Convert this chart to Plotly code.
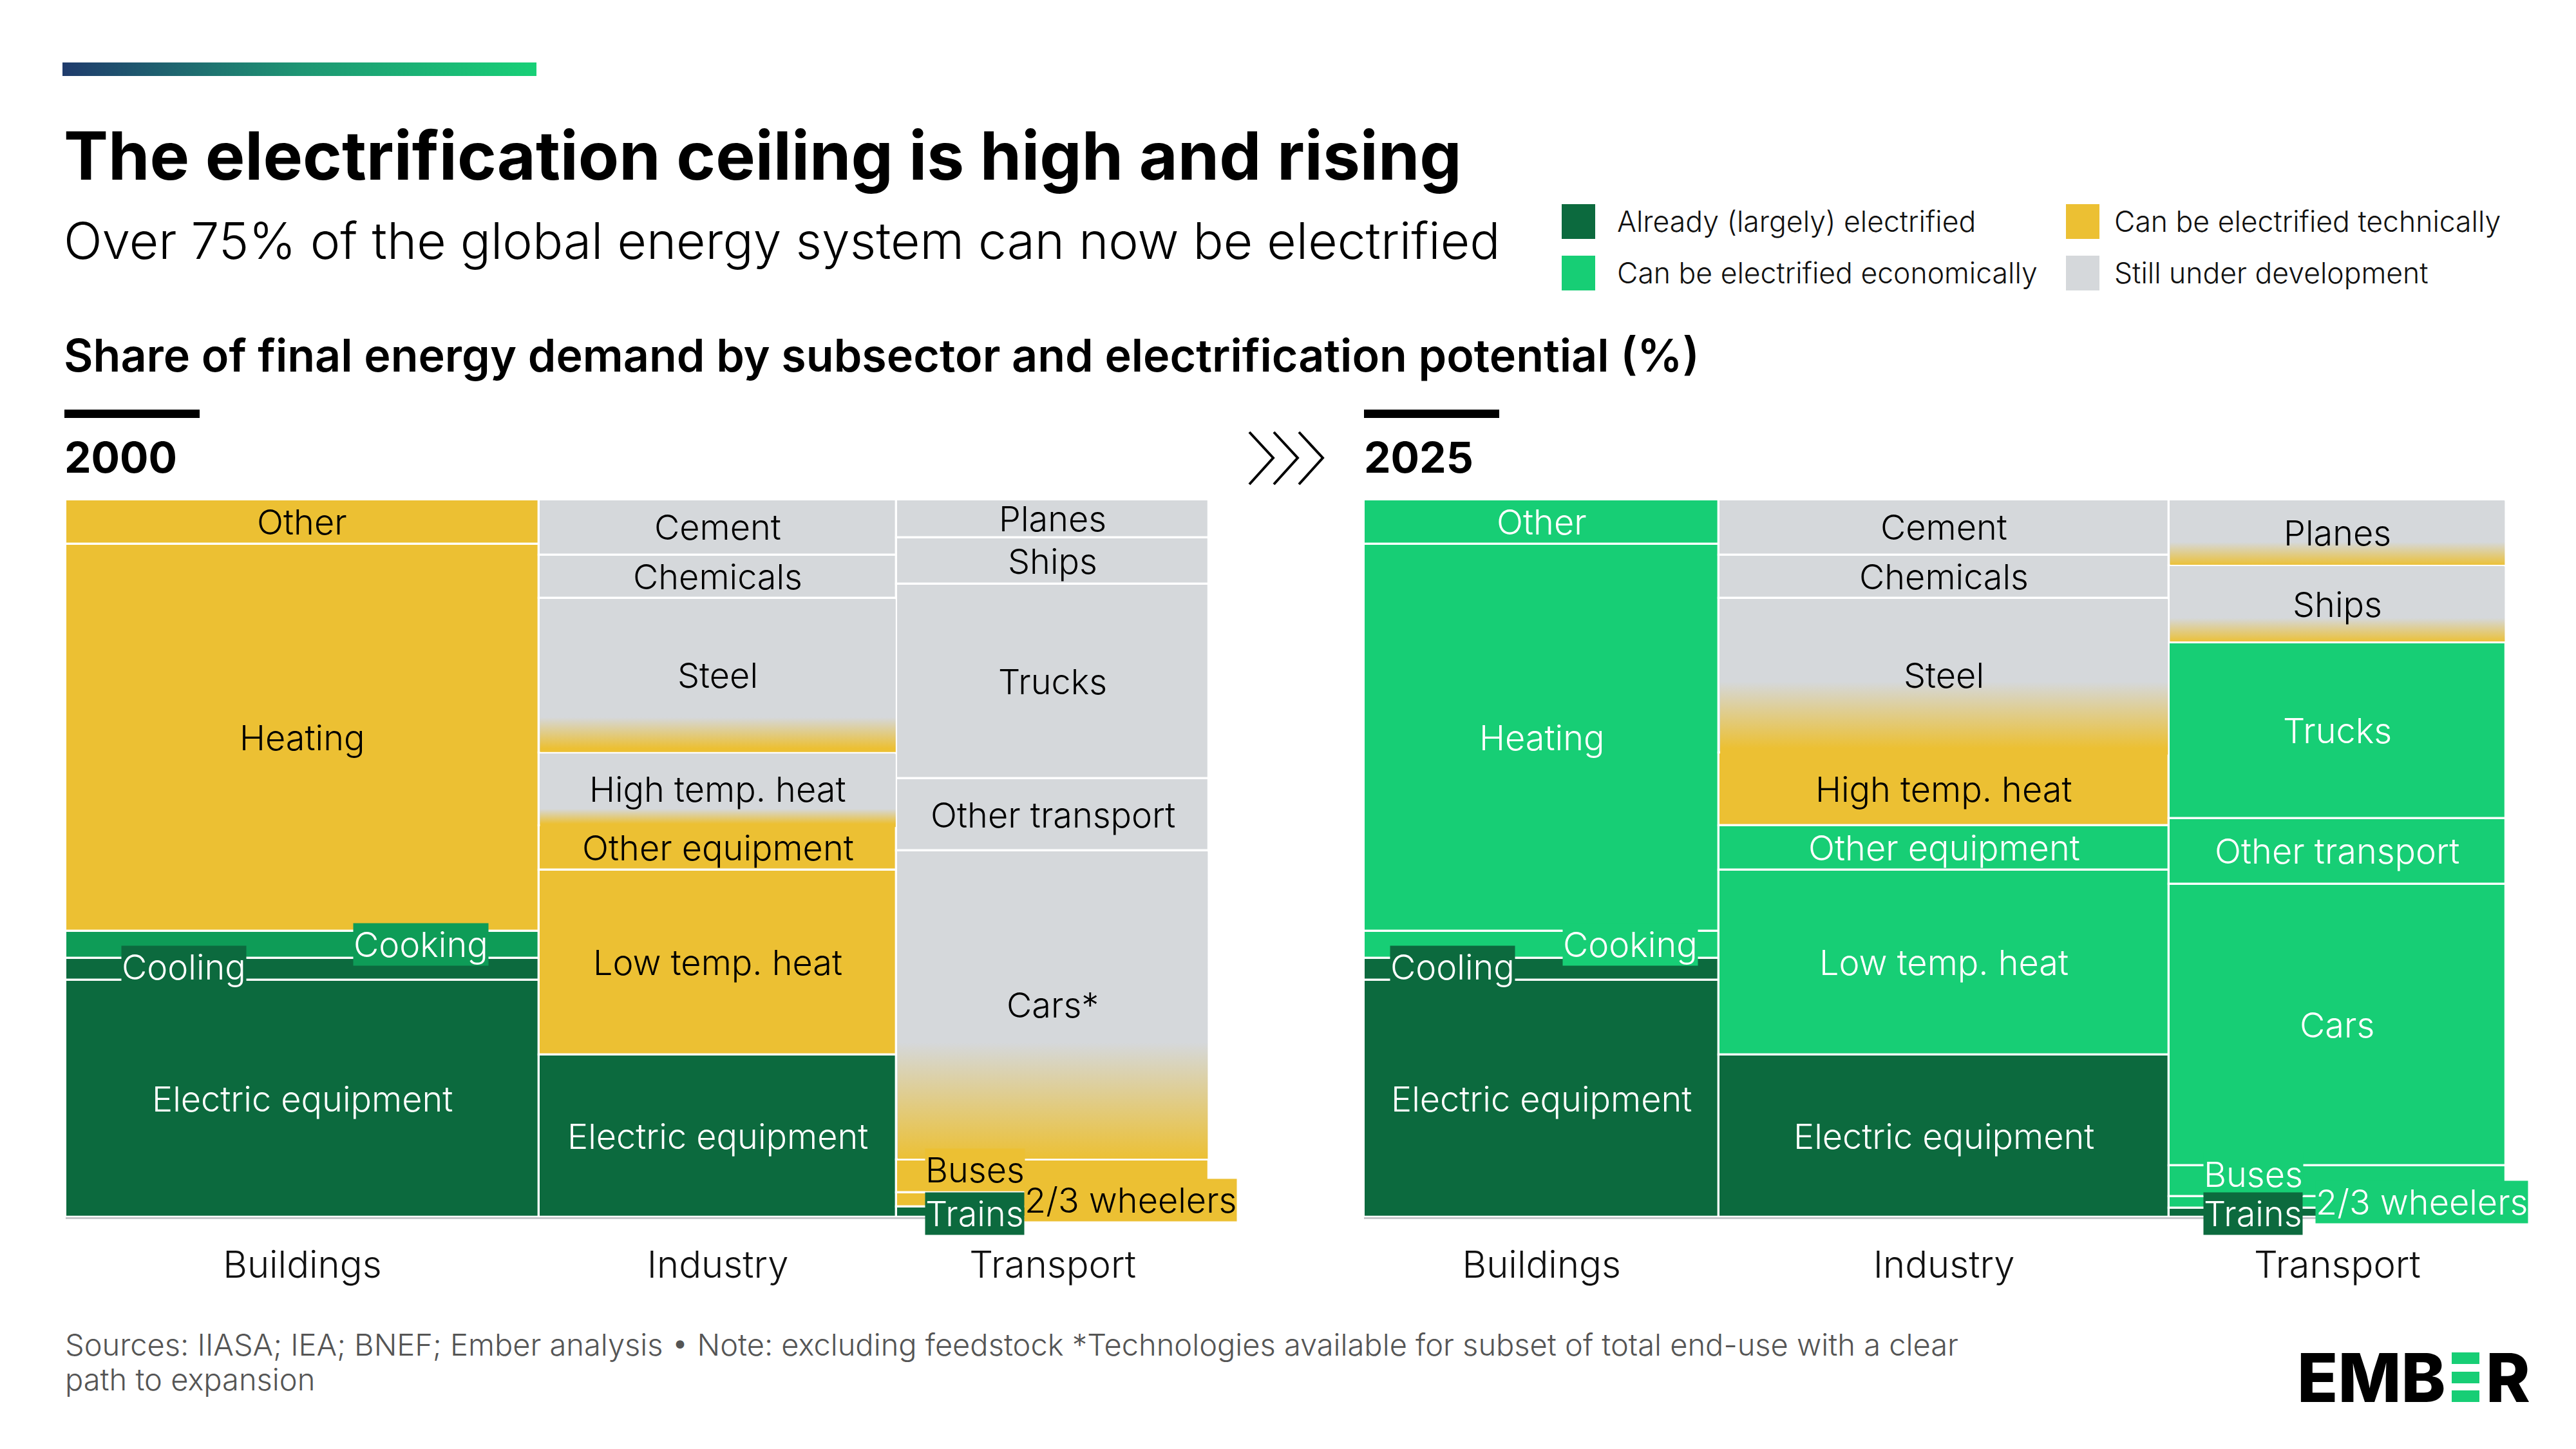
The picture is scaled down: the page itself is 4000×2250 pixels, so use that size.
import plotly.graph_objects as go

W, H = 4000, 2250

# ---------------- data ----------------
SECTORS = ["Buildings", "Industry", "Transport"]
SECTOR_WIDTH_2000 = [41.4, 31.3, 27.3]
SECTOR_WIDTH_2025 = [31.1, 39.4, 29.5]

# subsectors listed top-to-bottom, shares in % of the sector
BUILDINGS_SUBSECTORS = ["Other", "Heating", "Cooking", "Cooling", "Electric equipment"]
BUILDINGS_SHARE_2000 = [6.2, 53.9, 3.8, 3.1, 33.0]
BUILDINGS_SHARE_2025 = [6.2, 53.9, 3.8, 3.1, 33.0]
BUILDINGS_STATUS_2000 = ["tech", "tech", "partly", "already", "already"]
BUILDINGS_STATUS_2025 = ["econ", "econ", "econ", "already", "already"]

INDUSTRY_SUBSECTORS = ["Cement", "Chemicals", "Steel", "High temp. heat",
                       "Other equipment", "Low temp. heat", "Electric equipment"]
INDUSTRY_SHARE_2000 = [7.7, 6.0, 21.6, 10.1, 6.2, 25.8, 22.6]
INDUSTRY_SHARE_2025 = [7.7, 6.0, 21.6, 10.1, 6.2, 25.8, 22.6]
INDUSTRY_STATUS_2000 = ["dev", "dev", "grad", "grad", "tech", "tech", "already"]
INDUSTRY_STATUS_2025 = ["dev", "dev", "grad", "tech", "econ", "econ", "already"]

TRANSPORT_SUBSECTORS_2000 = ["Planes", "Ships", "Trucks", "Other transport", "Cars*",
                             "Buses", "2/3 wheelers", "Trains"]
TRANSPORT_SUBSECTORS_2025 = ["Planes", "Ships", "Trucks", "Other transport", "Cars",
                             "Buses", "2/3 wheelers", "Trains"]
TRANSPORT_SHARE_2000 = [5.3, 6.5, 27.1, 10.0, 43.1, 4.6, 2.0, 1.4]
TRANSPORT_SHARE_2025 = [9.2, 10.7, 24.5, 9.2, 39.2, 4.3, 1.6, 1.3]
TRANSPORT_STATUS_2000 = ["dev", "dev", "dev", "dev", "grad", "tech", "tech", "already"]
TRANSPORT_STATUS_2025 = ["grad", "grad", "econ", "econ", "econ", "econ", "econ", "already"]

# part of a gradient cell (measured from its top) over which gray turns into yellow
GRADIENT_RANGE = {
    ("2000", "Steel"): (0.77, 0.97),
    ("2000", "High temp. heat"): (0.77, 0.98),
    ("2000", "Cars*"): (0.62, 1.0),
    ("2025", "Steel"): (0.54, 0.97),
    ("2025", "Planes"): (0.64, 1.0),
    ("2025", "Ships"): (0.68, 1.0),
}
MERGE_BELOW = {("2000", "High temp. heat"), ("2025", "Steel")}

LEGEND_LABELS = ["Already (largely) electrified", "Can be electrified economically",
                 "Can be electrified technically", "Still under development"]

# ---------------- style ----------------
COLORS = {"already": "#0C6A3E", "econ": "#17CE75", "tech": "#ECC033",
          "dev": "#D5D8DB", "partly": "#0E9C57", "grad": "#D5D8DB"}
TEXT_ON = {"already": "white", "econ": "white", "partly": "white",
           "tech": "black", "dev": "black", "grad": "black"}
FONT = "Inter, Lato, Roboto, sans-serif"
LABEL_SIZE = 54
# small cells whose labels sit at a fraction of the column width, on a coloured box
LABEL_XFRAC = {"Cooking": 0.75, "Cooling": 0.25, "Buses": 0.25, "Trains": 0.25,
               "2/3 wheelers": 0.75}
LABEL_YSHIFT = {"Buses": 10, "Trains": -2, "Cooling": 4}

X_DOM = {"2000": [102 / W, 1877 / W], "2025": [2118 / W, 3891 / W]}
Y_DOM = [1 - 1890 / H, 1 - 776 / H]

fig = go.Figure()
annotations = []
shapes = []

YEAR_DATA = {
    "2000": dict(widths=SECTOR_WIDTH_2000, axes=("x", "y"), cols=[
        (BUILDINGS_SUBSECTORS, BUILDINGS_SHARE_2000, BUILDINGS_STATUS_2000),
        (INDUSTRY_SUBSECTORS, INDUSTRY_SHARE_2000, INDUSTRY_STATUS_2000),
        (TRANSPORT_SUBSECTORS_2000, TRANSPORT_SHARE_2000, TRANSPORT_STATUS_2000)]),
    "2025": dict(widths=SECTOR_WIDTH_2025, axes=("x2", "y2"), cols=[
        (BUILDINGS_SUBSECTORS, BUILDINGS_SHARE_2025, BUILDINGS_STATUS_2025),
        (INDUSTRY_SUBSECTORS, INDUSTRY_SHARE_2025, INDUSTRY_STATUS_2025),
        (TRANSPORT_SUBSECTORS_2025, TRANSPORT_SHARE_2025, TRANSPORT_STATUS_2025)]),
}

for year, d in YEAR_DATA.items():
    xa, ya = d["axes"]
    px_w = (X_DOM[year][1] - X_DOM[year][0]) * W
    px_h = (Y_DOM[1] - Y_DOM[0]) * H
    dx = 1.6 * sum(d["widths"]) / px_w
    dy = 1.6 * 100 / px_h
    bx, by, bw, bb, bc = [], [], [], [], []
    grads = []
    centers = []
    left = 0.0
    for (names, shares, status), width in zip(d["cols"], d["widths"]):
        centers.append(left + width / 2)
        top = sum(shares)
        for name, val, st in zip(names, shares, status):
            base = top - val
            bx.append(left + width / 2)
            bw.append(width)
            by.append(val)
            bb.append(base)
            bc.append(COLORS[st])
            if st == "grad":
                f0, f1 = GRADIENT_RANGE[(year, name)]
                grads.append((left, left + width, base, top, top - f1 * val, top - f0 * val,
                              (year, name) in MERGE_BELOW))
            # label
            font = dict(family=FONT, size=LABEL_SIZE, color=TEXT_ON[st], weight=300)
            if name in LABEL_XFRAC:
                annotations.append(dict(
                    x=left + width * LABEL_XFRAC[name], y=base + val / 2, xref=xa, yref=ya,
                    text=name, showarrow=False, font=font, bgcolor=COLORS[st], borderpad=0,
                    yshift=LABEL_YSHIFT.get(name, 0)))
            else:
                annotations.append(dict(
                    x=left + width / 2, y=base + val / 2, xref=xa, yref=ya, text=name,
                    showarrow=False, font=font))
            top = base
        left += width
    fig.add_trace(go.Bar(
        x=bx, y=by, base=bb, width=bw, xaxis=xa, yaxis=ya,
        marker=dict(color=bc, line=dict(color="white", width=3.2)),
        hoverinfo="skip", showlegend=False))
    for (l, r, b, t, s_yel, s_gray, merge) in grads:
        bot = b - 1.6 * dy if merge else b + dy
        fig.add_trace(go.Scatter(
            x=[l + dx, r - dx, r - dx, l + dx, l + dx],
            y=[bot, bot, t - dy, t - dy, bot],
            xaxis=xa, yaxis=ya, mode="lines", line=dict(width=0),
            fill="toself",
            fillgradient=dict(type="vertical",
                              colorscale=[[0, COLORS["tech"]], [1, COLORS["dev"]]],
                              start=s_yel, stop=s_gray),
            hoverinfo="skip", showlegend=False))
    axis_common = dict(domain=X_DOM[year], range=[0, sum(d["widths"])], showgrid=False,
                       zeroline=False, tickvals=centers, ticktext=SECTORS,
                       tickfont=dict(family=FONT, size=58, color="#111111", weight=300),
                       ticks="outside", ticklen=21, tickcolor="rgba(0,0,0,0)",
                       showline=True, linecolor="#C6C6CA", linewidth=3, fixedrange=True)
    yaxis_common = dict(domain=Y_DOM, range=[0, 100], visible=False, fixedrange=True)
    if year == "2000":
        fig.update_layout(xaxis=dict(anchor="y", **axis_common),
                          yaxis=dict(anchor="x", **yaxis_common))
    else:
        fig.update_layout(xaxis2=dict(anchor="y2", **axis_common),
                          yaxis2=dict(anchor="x2", **yaxis_common))

# ---------------- decoration: gradient header bar on an overlay axis ----------------
fig.add_trace(go.Scatter(
    x=[97, 833, 833, 97, 97], y=[97, 97, 118, 118, 97], xaxis="x3", yaxis="y3",
    mode="lines", line=dict(width=0), fill="toself",
    fillgradient=dict(type="horizontal",
                      colorscale=[[0, "#1F3B6C"], [0.5, "#1E9573"], [1, "#18D077"]],
                      start=97, stop=833),
    hoverinfo="skip", showlegend=False))
fig.update_layout(
    xaxis3=dict(domain=[0, 1], range=[0, W], visible=False, anchor="y3", fixedrange=True),
    yaxis3=dict(domain=[0, 1], range=[H, 0], visible=False, anchor="x3", fixedrange=True))


def px(x):
    return x / W


def py(y):
    return 1 - y / H


def text(x, y, s, size, weight=400, color="#000000", xanchor="left"):
    annotations.append(dict(x=px(x), y=py(y), xref="paper", yref="paper", text=s,
                            showarrow=False, xanchor=xanchor, yanchor="middle",
                            font=dict(family=FONT, size=size, color=color, weight=weight)))


text(97, 241, "The electrification ceiling is high and rising", 103.5, 700)
text(97, 373, "Over 75% of the global energy system can now be electrified", 78.5, 300)
text(97, 551, "Share of final energy demand by subsector and electrification potential (%)", 70, 600)
text(98, 710, "2000", 66, 700)
text(2116, 710, "2025", 66, 700)
text(99, 2087, "Sources: IIASA; IEA; BNEF; Ember analysis • Note: excluding feedstock *Technologies "
               "available for subset of total end-use with a clear", 47, 300, "#555555")
text(99, 2141, "path to expansion", 47, 300, "#555555")

# legend
legend_pos = [(2425, 344, 84, "already"), (2425, 424, 84, "econ"),
              (3208, 344, 73, "tech"), (3208, 424, 73, "dev")]
for (lx, ly, off, key), lab in zip(legend_pos, LEGEND_LABELS):
    shapes.append(dict(type="rect", xref="paper", yref="paper", x0=px(lx), x1=px(lx + 52),
                       y0=py(ly + 27), y1=py(ly - 27), fillcolor=COLORS[key], line=dict(width=0)))
    text(lx + off, ly, lab, 44.5, 300, "#111111")

# black bars above the year labels
for x0 in (100, 2118):
    shapes.append(dict(type="rect", xref="paper", yref="paper", x0=px(x0), x1=px(x0 + 210),
                       y0=py(649), y1=py(636), fillcolor="#000000", line=dict(width=0)))

# chevrons between the two panels
for cx in (1940, 1978, 2017):
    shapes.append(dict(type="path", xref="paper", yref="paper",
                       path=f"M {px(cx)} {py(671)} L {px(cx + 37)} {py(711)} L {px(cx)} {py(752)}",
                       line=dict(color="#000000", width=4)))

# EMBER logo
text(3800, 2139, "EMB", 104, 800, "#000000", xanchor="right")
text(3858, 2139, "R", 104, 800, "#000000")
for y0 in (2100, 2130, 2159):
    shapes.append(dict(type="rect", xref="paper", yref="paper", x0=px(3807), x1=px(3850),
                       y0=py(y0 + 18), y1=py(y0), fillcolor="#17CE75", line=dict(width=0)))

fig.update_layout(
    width=W, height=H, margin=dict(l=0, r=0, t=0, b=0),
    paper_bgcolor="white", plot_bgcolor="rgba(0,0,0,0)", barmode="overlay", bargap=0,
    annotations=annotations, shapes=shapes, showlegend=False)

fig.write_html("out.html", config={"displayModeBar": False},
               post_script="document.body.style.margin='0';")
